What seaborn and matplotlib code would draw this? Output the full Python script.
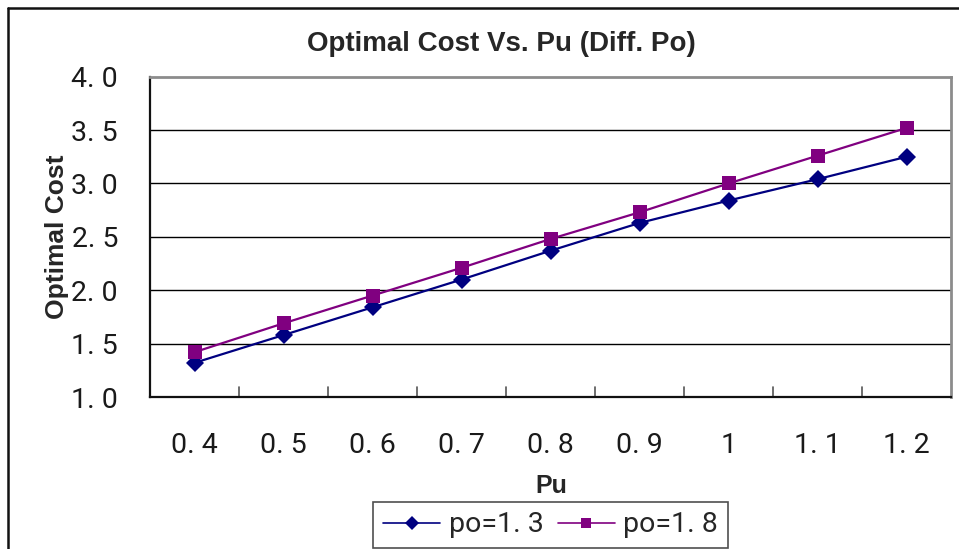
import matplotlib
matplotlib.use("Agg")
import matplotlib.pyplot as plt
from matplotlib.lines import Line2D
import seaborn as sns
import pandas as pd

# Data
pu = [0.4, 0.5, 0.6, 0.7, 0.8, 0.9, 1.0, 1.1, 1.2]
cost_po13 = [1.32, 1.58, 1.84, 2.10, 2.37, 2.63, 2.84, 3.04, 3.25]
cost_po18 = [1.42, 1.69, 1.95, 2.21, 2.48, 2.73, 3.00, 3.26, 3.52]
series_names = ["po=1.3", "po=1.8"]
y_ticks = [1.0, 1.5, 2.0, 2.5, 3.0, 3.5, 4.0]


def spaced(v):
    return f"{v:g}".replace(".", ". ")


pu_labels = [spaced(v) for v in pu]
legend_labels = [n.replace(".", ". ") for n in series_names]

df = pd.DataFrame({
    "Pu": pu_labels * 2,
    "cost": cost_po13 + cost_po18,
    "series": [series_names[0]] * len(pu) + [series_names[1]] * len(pu),
})

sns.set_theme(style="white")
num_font = ["Roboto", "DejaVu Sans"]
bold_font = ["Liberation Sans", "DejaVu Sans"]
plt.rcParams["font.family"] = bold_font

colors = {series_names[0]: "#000080", series_names[1]: "#800080"}
markers = {series_names[0]: "D", series_names[1]: "s"}

fig = plt.figure(figsize=(9.59, 5.49), dpi=100)
ax = fig.add_axes([150 / 959, 152 / 549, 801 / 959, 320.3 / 549])

sns.lineplot(data=df, x="Pu", y="cost", hue="series", style="series",
             palette=colors, markers=markers, dashes=False, markersize=9.5,
             markeredgewidth=0, linewidth=1.6, sort=False, legend=False, ax=ax)

ax.set_xlim(-0.5, len(pu) - 0.5)
ax.set_ylim(1.0, 4.0)

# horizontal grid lines
ax.set_yticks(y_ticks)
ax.set_yticklabels([f"{v:.1f}".replace(".", ". ") for v in y_ticks],
                   family=num_font, fontsize=20.5, color="#1a1a1a")
for v in y_ticks[1:-1]:
    ax.axhline(v, color="black", linewidth=1.0, zorder=0)

# category labels at centres, tick marks between categories
ax.set_xticks(range(len(pu)))
ax.set_xticklabels(pu_labels, family=num_font, fontsize=20.5, color="#1a1a1a")
ax.tick_params(axis="x", length=0, pad=25)
ax.tick_params(axis="y", length=0, pad=23)
for k in range(1, len(pu)):
    ax.axvline(k - 0.5, ymin=0, ymax=10 / 320.3, color="#555555", linewidth=1.2)

for side in ["left", "bottom"]:
    ax.spines[side].set_color("#111111")
    ax.spines[side].set_linewidth(1.6)
for side in ["top", "right"]:
    ax.spines[side].set_visible(True)
    ax.spines[side].set_color("#8c8c8c")
    ax.spines[side].set_linewidth(2.0)

ax.set_xlabel("Pu", fontsize=18, fontweight="bold")
ax.set_ylabel("Optimal Cost", fontsize=19, fontweight="bold")
ax.xaxis.set_label_coords((551 - 150) / 801, -(486 - 397) / 320.3)
ax.yaxis.set_label_coords(-(150 - 57) / 801, 0.5)
ax.xaxis.label.set_va("center")
ax.yaxis.label.set_va("center")

fig.text(501 / 959, 1 - 44 / 549, "Optimal Cost Vs. Pu (Diff. Po)",
         ha="center", va="center", fontsize=20, fontweight="bold")

handles = [Line2D([], [], color=colors[n], marker=markers[n], markersize=7,
                  markeredgewidth=0, linewidth=1.2) for n in series_names]
leg = fig.legend(handles, legend_labels, loc="center",
                 bbox_to_anchor=(550.5 / 959, 24 / 549), ncol=2,
                 frameon=True, fancybox=False, borderpad=0.35,
                 handlelength=2.0, handletextpad=0.3, columnspacing=0.5,
                 borderaxespad=0.2,
                 prop={"family": num_font, "size": 20.5})
leg.get_frame().set_edgecolor("#222222")
leg.get_frame().set_linewidth(1.2)

# chart frame (top and left edges)
fig.add_artist(Line2D([8 / 959, 1], [1 - 8 / 549, 1 - 8 / 549],
                      transform=fig.transFigure, color="#111111", linewidth=1.8))
fig.add_artist(Line2D([8 / 959, 8 / 959], [0, 1 - 8 / 549],
                      transform=fig.transFigure, color="#111111", linewidth=1.8))

fig.savefig("out.png", dpi=100, facecolor="white")
